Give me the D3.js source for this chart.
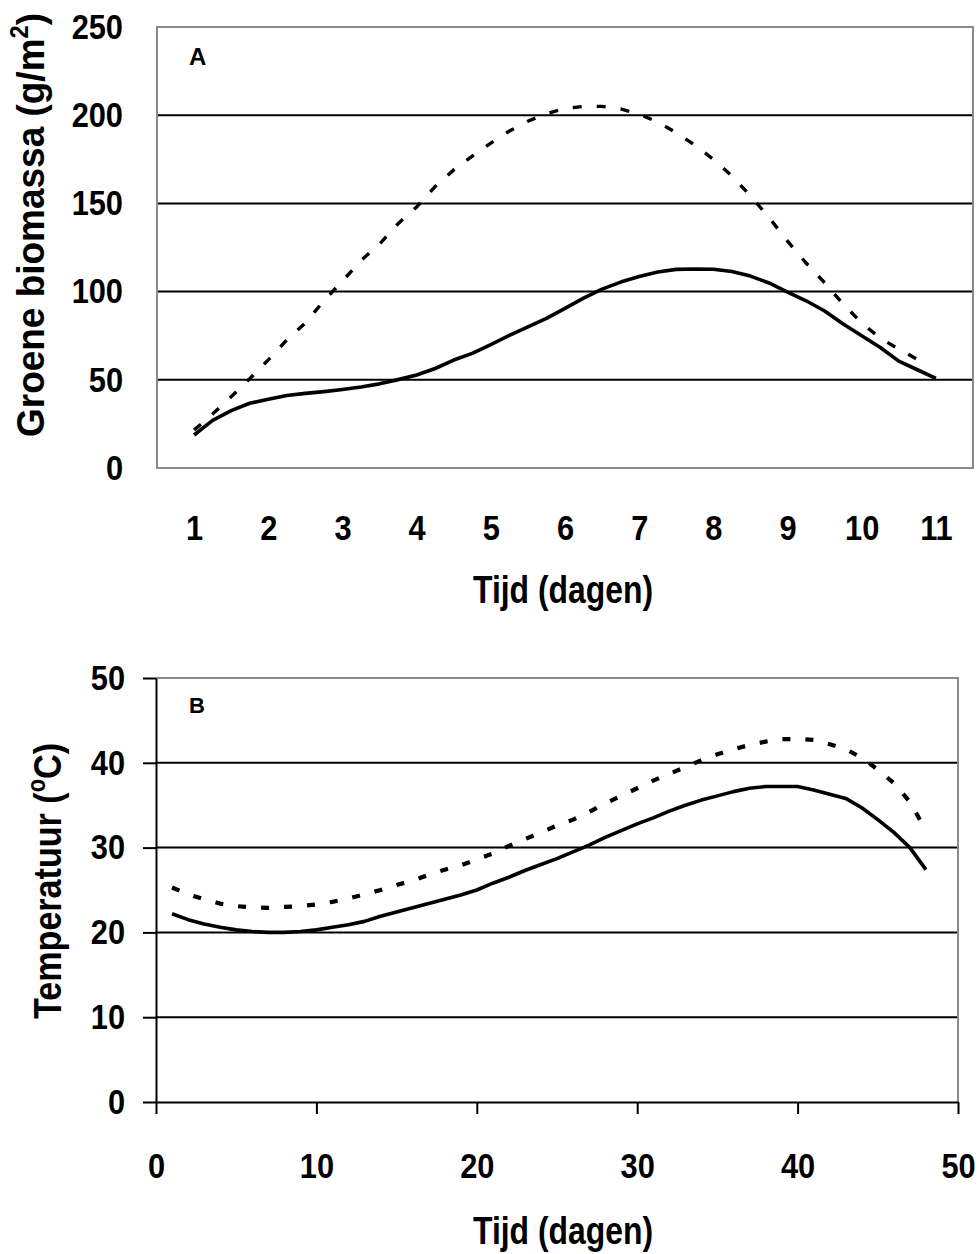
<!DOCTYPE html>
<html>
<head>
<meta charset="utf-8">
<script src="https://cdn.jsdelivr.net/npm/d3@7/dist/d3.min.js"></script>
<style>
  html, body { margin: 0; padding: 0; background: #fff; }
  svg { display: block; }
  .lab { font-family: "Liberation Sans", Arial, sans-serif; font-weight: bold; fill: #000; }
</style>
</head>
<body>
<svg id="chart" width="979" height="1254"></svg>
<script>
// ---------- Panel A data: green biomass (g/m2) vs time (days) ----------
const daysA = [1.00,1.25,1.50,1.75,2.00,2.25,2.50,2.75,3.00,3.25,3.50,3.75,4.00,4.25,4.50,4.75,5.00,5.25,5.50,5.75,6.00,6.25,6.50,6.75,7.00,7.25,7.50,7.75,8.00,8.25,8.50,8.75,9.00,9.25,9.50,9.75,10.00,10.25,10.50,10.75,11.00];
const solidA = [18.7,27.0,32.5,36.7,39.0,41.1,42.3,43.3,44.5,45.9,47.7,50.1,52.7,56.4,61.2,65.0,70.0,75.2,80.0,84.8,90.5,96.3,101.4,105.4,108.6,111.1,112.6,112.8,112.7,111.4,108.8,104.9,99.7,94.8,89.0,81.6,75.0,68.3,60.6,55.7,50.8];
const dashedA = [21.5,30.6,40.4,50.6,61.3,72.6,82.2,94.8,106.0,117.6,127.0,138.5,148.0,159.6,169.0,176.8,184.2,191.0,196.6,200.8,203.8,205.0,205.0,203.6,200.6,196.1,190.0,183.0,175.0,165.5,154.3,142.0,128.6,116.2,105.0,92.9,82.2,73.6,67.4,61.6];
const xTicksA = [1,2,3,4,5,6,7,8,9,10,11];
const yTicksA = [0,50,100,150,200,250];

// ---------- Panel B data: temperature (°C) vs time (days) ----------
const daysB = [1,2,3,4,5,6,7,8,9,10,11,12,13,14,15,16,17,18,19,20,21,22,23,24,25,26,27,28,29,30,31,32,33,34,35,36,37,38,39,40,41,42,43,44,45,46,47,48];
const solidB = [22.2,21.5,21.0,20.6,20.3,20.1,20.0,20.0,20.1,20.3,20.6,20.9,21.3,21.9,22.4,22.9,23.4,23.9,24.4,25.0,25.8,26.5,27.3,28.0,28.7,29.5,30.3,31.2,32.0,32.8,33.5,34.3,35.0,35.6,36.1,36.6,37.0,37.2,37.2,37.2,36.8,36.3,35.8,34.7,33.3,31.8,30.0,27.4];
const dashedB = [25.3,24.5,23.9,23.4,23.1,22.95,22.9,23.0,23.1,23.3,23.6,24.0,24.5,25.0,25.6,26.1,26.8,27.4,27.9,28.6,29.3,30.2,31.0,31.8,32.6,33.3,34.2,35.2,36.1,37.0,37.9,38.7,39.5,40.3,41.0,41.6,42.1,42.5,42.8,42.8,42.7,42.2,41.6,40.6,39.2,37.6,35.4,32.0];
const xTicksB = [0,10,20,30,40,50];
const yTicksB = [0,10,20,30,40,50];

const svg = d3.select("#chart");
const GRAY = "#8a8a8a";
const TICK_FS = 35, TICK_SX = 0.88;

// narrow the tick labels horizontally (Arial Narrow look)
function squeeze(sel, sx) {
  sel.each(function () {
    const t = d3.select(this);
    const x0 = +t.attr("x") || 0, y0 = +t.attr("y") || 0;
    t.attr("x", 0).attr("y", 0).attr("transform", `translate(${x0},${y0}) scale(${sx},1)`);
  });
}

// ================= Panel A =================
(function () {
  const L = 157, R = 973, T = 27, B = 468;
  const x = d3.scaleLinear().domain([0.5, 11.5]).range([L, R]);
  const y = d3.scaleLinear().domain([0, 250]).range([B, T]);
  const g = svg.append("g");

  g.append("g").selectAll("line").data(yTicksA.filter(v => v > 0 && v < 250)).join("line")
    .attr("x1", L).attr("x2", R).attr("y1", d => y(d)).attr("y2", d => y(d))
    .attr("stroke", "#000").attr("stroke-width", 2);

  g.append("rect").attr("x", L).attr("y", T).attr("width", R - L).attr("height", B - T)
    .attr("fill", "none").attr("stroke", GRAY).attr("stroke-width", 2);

  const ya = g.append("g").attr("transform", `translate(${L},0)`)
    .call(d3.axisLeft(y).tickValues(yTicksA).tickSize(0).tickPadding(34));
  ya.select(".domain").remove();
  ya.selectAll("text").attr("class", "lab").attr("font-size", TICK_FS).attr("font-family", null);
  squeeze(ya.selectAll("text"), TICK_SX);

  const xa = g.append("g").attr("transform", `translate(0,${B})`)
    .call(d3.axisBottom(x).tickValues(xTicksA).tickSize(0).tickFormat(d3.format("d")));
  xa.select(".domain").remove();
  xa.selectAll("text").attr("class", "lab").attr("font-size", TICK_FS).attr("font-family", null)
    .attr("dy", null).attr("y", 72);
  squeeze(xa.selectAll("text"), TICK_SX);

  const line = d3.line().x(d => x(d[0])).y(d => y(d[1]));
  g.append("path").datum(daysA.map((d, i) => [d, solidA[i]]))
    .attr("d", line).attr("fill", "none").attr("stroke", "#000").attr("stroke-width", 3.6)
    .attr("stroke-linejoin", "round");
  g.append("path").datum(dashedA.map((v, i) => [daysA[i], v]))
    .attr("d", line).attr("fill", "none").attr("stroke", "#000").attr("stroke-width", 3.4)
    .attr("stroke-dasharray", "9,15");

  g.append("text").attr("x", 189).attr("y", 65).text("A")
    .attr("class", "lab").attr("font-size", 24);

  g.append("text").attr("class", "lab").attr("font-size", 39)
    .attr("x", 563).attr("y", 603).attr("text-anchor", "middle")
    .attr("textLength", 180).attr("lengthAdjust", "spacingAndGlyphs").text("Tijd (dagen)");
  const yt = g.append("text").attr("class", "lab").attr("font-size", 39)
    .attr("transform", "translate(44,225) rotate(-90)").attr("text-anchor", "middle")
    .attr("textLength", 424).attr("lengthAdjust", "spacingAndGlyphs");
  yt.append("tspan").text("Groene biomassa (g/m");
  yt.append("tspan").text("2").attr("font-size", 25).attr("dy", -16);
  yt.append("tspan").text(")").attr("dy", 16);
})();

// ================= Panel B =================
(function () {
  const L = 156, R = 958, T = 678, B = 1102;
  const x = d3.scaleLinear().domain([0, 50]).range([L, R]);
  const y = d3.scaleLinear().domain([0, 50]).range([B, T]);
  const g = svg.append("g");

  g.append("g").selectAll("line").data(yTicksB.filter(v => v > 0 && v < 50)).join("line")
    .attr("x1", L).attr("x2", R).attr("y1", d => y(d)).attr("y2", d => y(d))
    .attr("stroke", "#000").attr("stroke-width", 2);

  g.append("path").attr("d", `M${L},${T}H${R}V${B}`).attr("fill", "none")
    .attr("stroke", GRAY).attr("stroke-width", 2);

  const ya = g.append("g").attr("transform", `translate(${L},0)`)
    .call(d3.axisLeft(y).tickValues(yTicksB).tickSize(13).tickPadding(18).tickSizeOuter(0));
  ya.select(".domain").attr("stroke", "#000").attr("stroke-width", 2);
  ya.selectAll(".tick line").attr("stroke", "#000").attr("stroke-width", 2);
  ya.selectAll("text").attr("class", "lab").attr("font-size", TICK_FS).attr("font-family", null);
  squeeze(ya.selectAll("text"), TICK_SX);

  const xa = g.append("g").attr("transform", `translate(0,${B})`)
    .call(d3.axisBottom(x).tickValues(xTicksB).tickSize(12).tickSizeOuter(0));
  xa.select(".domain").attr("stroke", "#000").attr("stroke-width", 2);
  xa.selectAll(".tick line").attr("stroke", "#000").attr("stroke-width", 2);
  xa.selectAll("text").attr("class", "lab").attr("font-size", TICK_FS).attr("font-family", null)
    .attr("dy", null).attr("y", 76);
  squeeze(xa.selectAll("text"), TICK_SX);

  const line = d3.line().x(d => x(d[0])).y(d => y(d[1]));
  g.append("path").datum(daysB.map((d, i) => [d, solidB[i]]))
    .attr("d", line).attr("fill", "none").attr("stroke", "#000").attr("stroke-width", 3.6)
    .attr("stroke-linejoin", "round");
  g.append("path").datum(daysB.map((d, i) => [d, dashedB[i]]))
    .attr("d", line).attr("fill", "none").attr("stroke", "#000").attr("stroke-width", 4.2)
    .attr("stroke-dasharray", "8,15");

  g.append("text").attr("x", 189).attr("y", 713).text("B")
    .attr("class", "lab").attr("font-family", "Lato, Liberation Sans, sans-serif")
    .attr("font-size", 22);

  g.append("text").attr("class", "lab").attr("font-size", 39)
    .attr("x", 563).attr("y", 1244).attr("text-anchor", "middle")
    .attr("textLength", 180).attr("lengthAdjust", "spacingAndGlyphs").text("Tijd (dagen)");
  const yt = g.append("text").attr("class", "lab").attr("font-size", 39)
    .attr("transform", "translate(61,881) rotate(-90)").attr("text-anchor", "middle")
    .attr("textLength", 276).attr("lengthAdjust", "spacingAndGlyphs");
  yt.append("tspan").text("Temperatuur (");
  yt.append("tspan").text("o").attr("font-size", 25).attr("dy", -16);
  yt.append("tspan").text("C)").attr("dy", 16);
})();
</script>
</body>
</html>
